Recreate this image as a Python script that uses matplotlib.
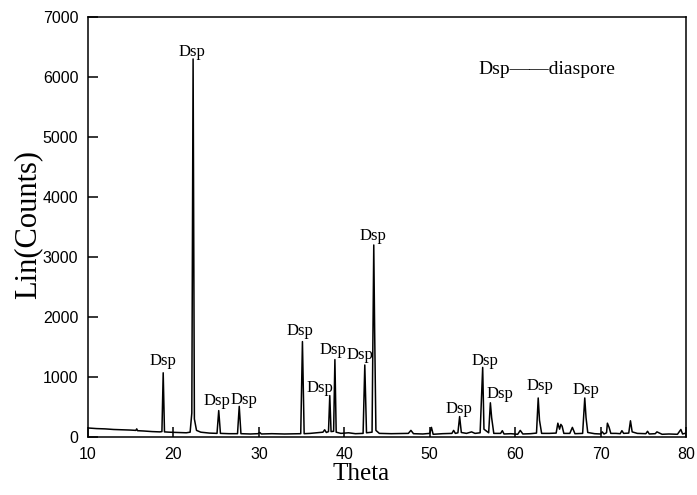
#! /usr/bin/env python3

import matplotlib.pyplot as plt

# XRD pattern: (theta, counts)
theta = [10, 11, 12, 13, 14, 15, 15.6, 15.7, 15.8, 16.5, 17.5, 18.4, 18.65, 18.8, 18.95, 19.5,
         20.5, 21.5, 21.95, 22.15, 22.3, 22.45, 22.7, 23.2, 24.2, 25.1, 25.3, 25.5, 26.5,
         27.5, 27.7, 27.9, 29.0, 29.9, 30.1, 30.3, 31.5, 33.0, 34.9, 35.1, 35.3, 36.0,
         36.8, 37.5, 37.7, 37.9, 38.15, 38.3, 38.45, 38.75, 38.9, 39.05, 39.6, 40.5,
         41.3, 42.2, 42.4, 42.6, 43.25, 43.45, 43.55, 43.7, 44.1, 45.5, 47.5, 47.8,
         48.1, 49.2, 50.0, 50.2, 50.4, 51.5, 52.6, 52.8, 53.0, 53.3, 53.5, 53.7, 54.3,
         54.9, 55.3, 55.9, 56.2, 56.35, 56.9, 57.1, 57.25, 57.5, 58.3, 58.5, 58.7, 59.5,
         60.3, 60.6, 60.9, 61.8, 62.5, 62.7, 62.85, 63.1, 64.0, 64.8, 65.0, 65.2, 65.35,
         65.5, 65.7, 66.4, 66.7, 67.0, 67.9, 68.15, 68.3, 68.5, 69.3, 70.0, 70.2, 70.4,
         70.7, 70.8, 71.0, 71.2, 71.8, 72.3, 72.5, 72.7, 73.3, 73.5, 73.7, 74.3, 75.3,
         75.5, 75.7, 76.4, 76.6, 77.2, 78.0, 79.0, 79.4, 79.6, 80.0]
counts = [150, 140, 135, 125, 120, 115, 110, 135, 105, 100, 90, 85, 90, 1070, 85, 80,
          75, 70, 80, 400, 6300, 300, 110, 80, 65, 60, 440, 60, 55,
          55, 510, 55, 50, 55, 75, 50, 55, 50, 55, 1590, 55, 60,
          70, 80, 120, 75, 90, 690, 90, 95, 1290, 80, 60, 70,
          55, 60, 1200, 70, 80, 3200, 1800, 110, 60, 55, 60, 110,
          55, 50, 60, 160, 45, 55, 60, 110, 60, 70, 340, 75, 60,
          85, 60, 70, 1160, 130, 70, 570, 320, 60, 60, 105, 50, 55,
          45, 110, 50, 55, 65, 650, 280, 60, 60, 65, 230, 130, 210,
          180, 60, 60, 160, 55, 60, 650, 320, 75, 55, 50, 85, 50,
          70, 230, 160, 60, 60, 55, 105, 60, 65, 270, 85, 60, 55,
          95, 50, 55, 85, 45, 50, 45, 125, 50, 65]

# "Dsp" label positions (theta, counts)
label_x = [18.75, 22.2, 25.1, 28.25, 34.8, 37.2, 38.7, 41.85, 43.35,
           53.45, 56.45, 58.2, 62.9, 68.3]
label_y = [1270, 6420, 600, 620, 1770, 820, 1450, 1370, 3350,
           470, 1270, 720, 850, 790]

fig = plt.figure(figsize=(6.97, 4.95), dpi=100)
ax = fig.add_axes([0.1263, 0.1172, 0.8579, 0.8485])

ax.plot(theta, counts, color='black', lw=1.1)

for lx, ly in zip(label_x, label_y):
    ax.text(lx, ly, "Dsp", ha='center', va='center', fontsize=12,
            family='Liberation Serif')

ax.text(63.75, 6120, "Dsp\u2014\u2014diaspore", ha='center', va='center',
        fontsize=14, family='Liberation Serif')

ax.set_xlim(10, 80)
ax.set_ylim(0, 7000)
ax.set_xticks(range(10, 81, 10))
ax.set_yticks(range(0, 7001, 1000))
ax.tick_params(direction='in', length=7, width=1.1, top=False, right=False,
               labelsize=11.5)
ax.tick_params(axis='x', pad=7)
ax.tick_params(axis='y', pad=7)
for lab in ax.get_xticklabels() + ax.get_yticklabels():
    lab.set_family('Liberation Sans')
for s in ax.spines.values():
    s.set_linewidth(1.1)

ax.set_xlabel("Theta", fontsize=18, family='Liberation Serif')
ax.xaxis.set_label_coords(0.457, -0.063)
ax.set_ylabel("Lin(Counts)", fontsize=22, family='Liberation Serif')
ax.yaxis.set_label_coords(-0.077, 0.507)

fig.savefig("out.png", dpi=100)
